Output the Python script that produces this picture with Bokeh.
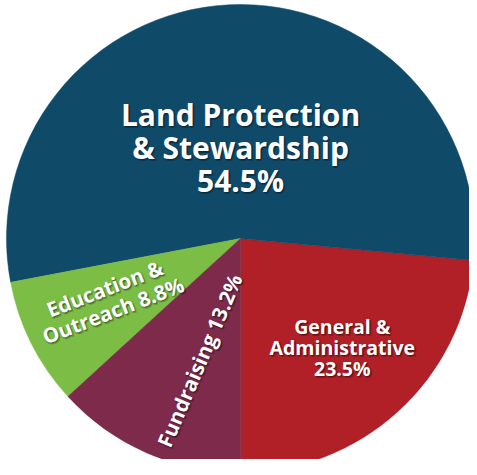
import math
from bokeh.plotting import figure
from bokeh.models import ColumnDataSource, Range1d
from bokeh.core.properties import value
from bokeh.embed import file_html
from bokeh.resources import INLINE

# ---- data ----
categories = ["General & Administrative", "Land Protection & Stewardship",
              "Education & Outreach", "Fundraising"]
percents = [23.5, 54.5, 8.8, 13.2]
labels = ["General &\nAdministrative\n23.5%",
          "Land Protection\n& Stewardship\n54.5%",
          "Education &\nOutreach 8.8%",
          "Fundraising 13.2%"]
colors = ["#b11f27", "#0f4a69", "#7bbd45", "#7d2a4b"]

# ---- layout / style ----
W, H = 469, 459
CX, CY, R = 240, 221, 234          # pie centre & radius in plot pixels (y up)
START = -90.0                      # degrees, first wedge starts straight down
label_r = [149, 91, 145, 128.7]
label_dtheta = [0.8, -2.7, -1.85, 5.15]
label_rot = [0, 0, 21, 67]
label_size = [19.5, 30, 20.5, 20.5]
label_lh = [0.78, 0.81, 0.84, 0.84]

p = figure(width=W, height=H, output_backend="svg", toolbar_location=None,
           x_range=Range1d(0, W), y_range=Range1d(0, H), min_border=0)
p.axis.visible = False
p.grid.visible = False
p.outline_line_color = None
p.background_fill_color = "white"

total = sum(percents)
starts, ends = [], []
a = START
for v in percents:
    starts.append(math.radians(a))
    a += v / total * 360.0
    ends.append(math.radians(a))

src = ColumnDataSource(dict(x=[CX] * 4, y=[CY] * 4, start=starts, end=ends,
                            color=colors, cat=categories))
p.wedge(x="x", y="y", radius=R, start_angle="start", end_angle="end",
        fill_color="color", line_color="color", line_width=0.5, source=src)

# labels
for i in range(4):
    mid = math.degrees((starts[i] + ends[i]) / 2) + label_dtheta[i]
    lx = CX + label_r[i] * math.cos(math.radians(mid))
    ly = CY + label_r[i] * math.sin(math.radians(mid))
    ang = math.radians(label_rot[i])
    common = dict(text_align="center", text_baseline="middle",
                  text_font=value("Open Sans"), text_font_style="bold",
                  text_font_size=f"{label_size[i]}px",
                  text_line_height=label_lh[i], angle=ang)
    for dx, dy, al in [(2, -2, 0.18), (1, -1, 0.2), (2, 0, 0.12), (0, -2, 0.12)]:
        p.text(x=[lx], y=[ly], text=[labels[i]], text_color="black",
               text_alpha=al, x_offset=dx, y_offset=-dy, **common)
    p.text(x=[lx], y=[ly], text=[labels[i]], text_color="white", **common)

open("out.html", "w").write(file_html(p, INLINE))
